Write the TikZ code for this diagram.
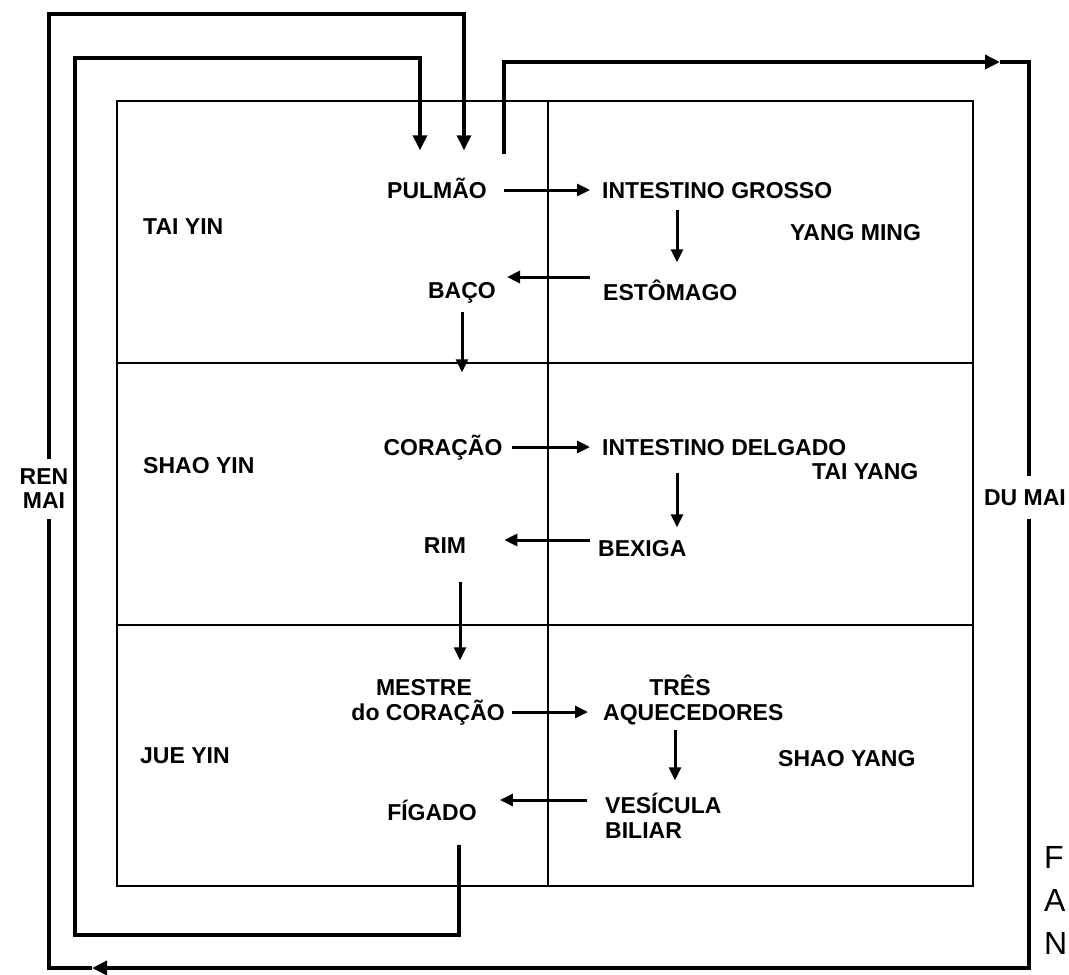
\documentclass[tikz,border=0pt]{standalone}
\usepackage{fontspec}
\setmainfont{Liberation Sans}
\usetikzlibrary{arrows.meta}
\begin{document}
\begin{tikzpicture}[x=1pt,y=-1pt,
  lbl/.style={font=\bfseries\fontsize{23}{27}\selectfont, inner sep=0pt, text height=17pt, text depth=0pt},
  lblm/.style={font=\bfseries\fontsize{23}{24}\selectfont, inner sep=0pt, align=center},
  gridline/.style={line width=1.5pt},
  arr/.style={line width=3pt, -{Triangle[length=13pt,width=12pt]}},
  outerline/.style={line width=3.5pt},
  outerarr/.style={line width=3.5pt, -{Triangle[length=15pt,width=14pt]}},
  captxt/.style={font=\fontsize{32}{36}\selectfont, inner sep=0pt, anchor=west}
]
\useasboundingbox[fill=white] (0,0) rectangle (1069,975);

% frame of the table
\draw[gridline] (117,101) rectangle (973,886);
\draw[gridline] (117,363) -- (973,363);
\draw[gridline] (117,625) -- (973,625);
\draw[gridline] (548,101) -- (548,886);

% organ and channel labels
\node[lbl] (pulmao) at (437,190) {PULMÃO};
\node[lbl,anchor=west] (ig) at (602,190) {INTESTINO GROSSO};
\node[lbl,anchor=west] (taiyin) at (143,226) {TAI YIN};
\node[lbl,anchor=west] (yangming) at (790,232) {YANG MING};
\node[lbl,anchor=west] (estomago) at (603,292) {ESTÔMAGO};
\node[lbl] (baco) at (462,290) {BAÇO};
\node[lbl] (coracao) at (443,447) {CORAÇÃO};
\node[lbl,anchor=west] (idelgado) at (602,447) {INTESTINO DELGADO};
\node[lbl,anchor=west] (shaoyin) at (143,465) {SHAO YIN};
\node[lbl,anchor=west] (taiyang) at (812,471) {TAI YANG};
\node[lbl] (rim) at (445,545) {RIM};
\node[lbl,anchor=west] (bexiga) at (598,548) {BEXIGA};
\node[lbl] (mestre) at (424,687) {MESTRE};
\node[lbl,anchor=east] (docoracao) at (505,712) {do CORAÇÃO};
\node[lbl] (tres) at (680,687) {TRÊS};
\node[lbl,anchor=west] (aquecedores) at (603,712) {AQUECEDORES};
\node[lbl,anchor=west] (jueyin) at (140,755) {JUE YIN};
\node[lbl,anchor=west] (shaoyang) at (778,758) {SHAO YANG};
\node[lbl,anchor=west] (vesicula) at (605,805) {VESÍCULA};
\node[lbl,anchor=west] (biliar) at (605,830) {BILIAR};
\node[lbl] (figado) at (432,812) {FÍGADO};

% inner flow
\draw[arr, shorten <=17pt, shorten >=12pt] (pulmao.east) -- (ig.west);
\draw[arr, shorten <=11pt, shorten >=21pt] ([xshift=75pt]ig.south west) -- ([xshift=74pt]estomago.north west);
\draw[arr, shorten <=13pt, shorten >=11pt] ([yshift=15pt]estomago.west) -- ([yshift=13pt]baco.east);
\draw[arr, shorten <=13pt, shorten >=66pt] (baco.south) -- (baco.south |- coracao.north);
\draw[arr, shorten <=9pt, shorten >=12pt] (coracao.east) -- (idelgado.west);
\draw[arr, shorten <=17pt, shorten >=12pt] ([xshift=75pt]idelgado.south west) -- ([xshift=79pt]bexiga.north west);
\draw[arr, shorten <=8pt, shorten >=38pt] ([yshift=8pt]bexiga.west) -- ([yshift=5pt]rim.east);
\draw[arr, shorten <=28pt, shorten >=18pt] ([xshift=15pt]rim.south) -- ([xshift=15pt]rim.south |- mestre.north);
\draw[arr, shorten <=7pt, shorten >=15pt] (docoracao.east) -- (aquecedores.west);
\draw[arr, shorten <=9pt, shorten >=16pt] ([xshift=72pt]aquecedores.south west) -- ([xshift=70pt]vesicula.north west);
\draw[arr, shorten <=18pt, shorten >=23pt] ([yshift=5pt]vesicula.west) -- ([yshift=12pt]figado.east);

% return loop: figado back to pulmao
\coordinate (bl) at (75,935);
\coordinate (tl) at (75,58);
\draw[outerarr, shorten <=24pt, shorten >=31pt] ([xshift=27pt]figado.south) |- (bl) -- (tl) -| ([xshift=-17pt]pulmao.north);

% outer loop: du mai / ren mai
\coordinate (dmtip) at (1000,62);
\coordinate (dmtr) at (1029,62);
\coordinate (dmbr) at (1029,968);
\coordinate (rmtip) at (92,968);
\coordinate (rmbl) at (49,968);
\coordinate (rmtl) at (49,14);
\draw[outerarr, shorten <=27pt] ([xshift=67pt]pulmao.north) |- (dmtip);
\draw[outerarr] (dmtip) -- (dmtr) -- (dmbr) -- (rmtip);
\draw[outerarr, shorten >=31pt] (rmtip) -- (rmbl) -- (rmtl) -| ([xshift=27pt]pulmao.north);

% vessel names (mask the line behind them)
\node[lblm, fill=white, inner xsep=1pt, inner ysep=10pt] (renmai) at (44,489) {REN\\MAI};
\node[lbl, fill=white, inner xsep=1pt, inner ysep=13pt] (dumai) at (1025,497) {DU MAI};

% caption letters at the right edge
\node[captxt] (capf) at (1044,857) {F};
\node[captxt] (capa) at (1044,900) {A};
\node[captxt] (capn) at (1044,943) {N};
\end{tikzpicture}
\end{document}
